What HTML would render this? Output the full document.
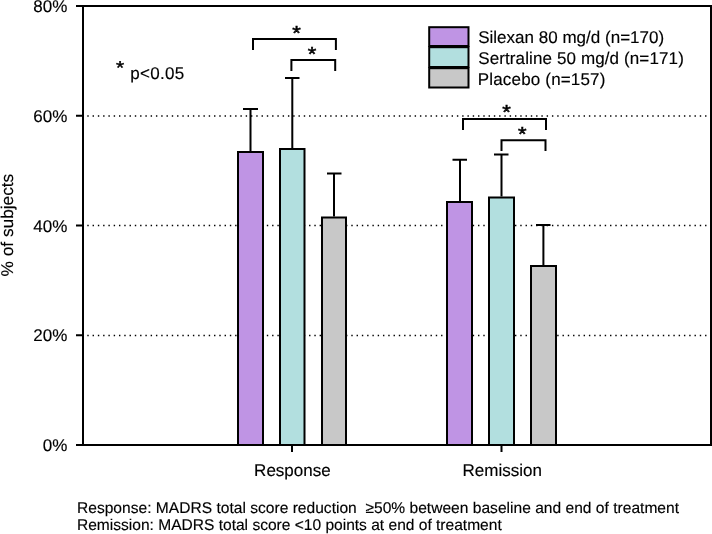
<!DOCTYPE html>
<html>
<head>
<meta charset="utf-8">
<style>
html,body{margin:0;padding:0;background:#fff;}
body{width:712px;height:534px;overflow:hidden;}
svg{display:block;}
text{font-family:"Liberation Sans",sans-serif;fill:#000;text-rendering:geometricPrecision;stroke:#000;stroke-width:0.15px;}
svg{will-change:transform;}
.ast text{stroke-width:0.6px;}
</style>
</head>
<body>
<svg width="712" height="534" viewBox="0 0 712 534">
<rect x="0" y="0" width="712" height="534" fill="#fff"/>
<!-- gridlines -->
<g stroke="#000" stroke-width="1.5" stroke-dasharray="1.4 3.88" fill="none">
<line x1="87.3" y1="115.9" x2="709" y2="115.9"/>
<line x1="87.3" y1="225.6" x2="709" y2="225.6"/>
<line x1="87.3" y1="335.4" x2="709" y2="335.4"/>
</g>
<!-- bars -->
<g stroke="#000" stroke-width="2">
<rect x="238" y="152" width="25" height="293" fill="#bf94e4"/>
<rect x="280" y="149" width="24.5" height="296" fill="#b2dfdf"/>
<rect x="322" y="217.5" width="24" height="227.5" fill="#c8c8c8"/>
<rect x="447" y="202" width="25" height="243" fill="#bf94e4"/>
<rect x="489" y="197.5" width="25" height="247.5" fill="#b2dfdf"/>
<rect x="531" y="266" width="25" height="179" fill="#c8c8c8"/>
</g>
<!-- error bars -->
<g stroke="#000" stroke-width="2" fill="none">
<path d="M250.5 151V109M243 109H258"/>
<path d="M292.3 148V78M285 78H299.5"/>
<path d="M334 216.5V173.5M327 173.5H341.5"/>
<path d="M460 201V159.8M452.5 159.8H467"/>
<path d="M501.5 196.5V154.5M494 154.5H508.5"/>
<path d="M543.4 265V225M536 225H550.5"/>
</g>
<!-- significance brackets -->
<g stroke="#000" stroke-width="2" fill="none">
<path d="M253 50V39H335.9V50"/>
<path d="M291.4 71V60H335.2V71"/>
<path d="M463 130V119H546V130"/>
<path d="M501.5 151V140.3H545.5V151"/>
</g>
<g font-size="22" text-anchor="middle" class="ast">
<text transform="translate(296.45,39.55) scale(1,0.93)">*</text>
<text transform="translate(312,61.35) scale(1,0.93)">*</text>
<text transform="translate(506.65,119.05) scale(1,0.93)">*</text>
<text transform="translate(522.4,140.85) scale(1,0.93)">*</text>
</g>
<!-- frame -->
<g stroke="#000" stroke-width="2" fill="none">
<path d="M83 445V6H711V445H83"/>
<path d="M76 6H83M76 115.75H83M76 225.5H83M76 335.25H83M76 445H83"/>
<path d="M292 445V452M501.5 445V452"/>
</g>
<!-- y tick labels -->
<g font-size="17" text-anchor="end">
<text x="67.4" y="12.2">80%</text>
<text x="67.4" y="121.9">60%</text>
<text x="67.4" y="231.7">40%</text>
<text x="67.4" y="341.4">20%</text>
<text x="67.4" y="451.2">0%</text>
</g>
<text font-size="17" transform="translate(13.3,276.4) rotate(-90)" textLength="102.6" lengthAdjust="spacingAndGlyphs">% of subjects</text>
<!-- p note -->
<text font-size="21" transform="translate(115.9,74.4) scale(1,0.88)" style="stroke-width:0.5px">*</text>
<text font-size="17" x="130.2" y="79" textLength="54">p&lt;0.05</text>
<!-- legend -->
<g stroke="#000" stroke-width="2">
<rect x="429.2" y="27.2" width="39.3" height="18.8" fill="#bf94e4"/>
<rect x="429.2" y="47.2" width="39.3" height="19.8" fill="#b2dfdf"/>
<rect x="429.2" y="68.2" width="39.3" height="19.3" fill="#c8c8c8"/>
</g>
<g font-size="17">
<text x="478.2" y="42.8" textLength="186">Silexan 80 mg/d (n=170)</text>
<text x="478.2" y="63.8" textLength="205.6">Sertraline 50 mg/d (n=171)</text>
<text x="477.8" y="84.8" textLength="127.6">Placebo (n=157)</text>
</g>
<!-- x labels -->
<g font-size="17" text-anchor="middle">
<text x="292.4" y="476.4">Response</text>
<text x="502.2" y="476.4">Remission</text>
</g>
<!-- footnotes -->
<g font-size="15.55">
<text x="77" y="512.8" xml:space="preserve" textLength="602">Response: MADRS total score reduction  ≥50% between baseline and end of treatment</text>
<text x="77" y="530.4">Remission: MADRS total score &lt;10 points at end of treatment</text>
</g>
</svg>
</body>
</html>
